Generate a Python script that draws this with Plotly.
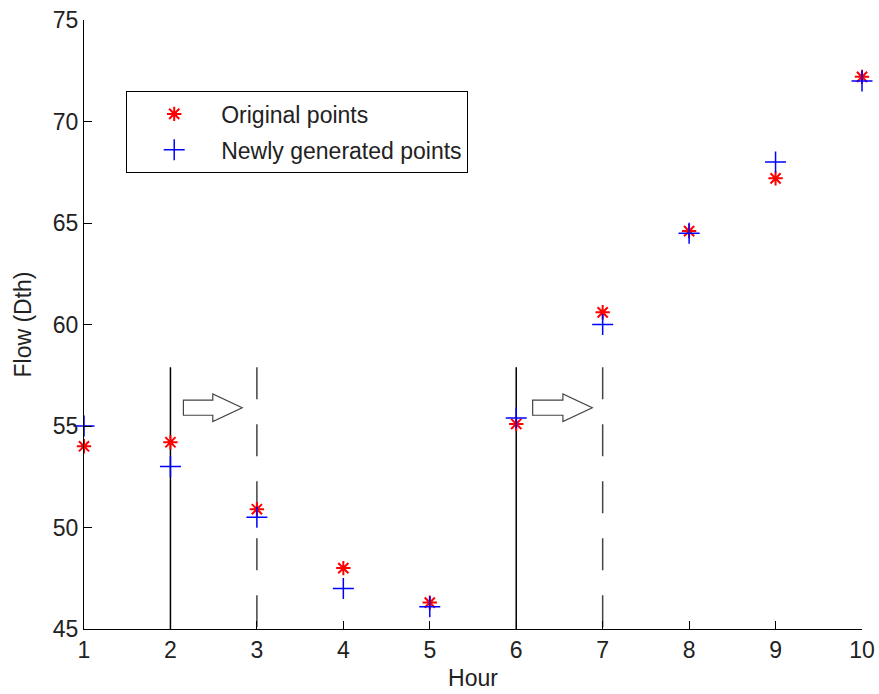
import plotly.graph_objects as go

hours = [1, 2, 3, 4, 5, 6, 7, 8, 9, 10]
original = [54.0, 54.2, 50.9, 48.0, 46.3, 55.1, 60.6, 64.6, 67.2, 72.2]
generated = [55.0, 53.0, 50.5, 47.0, 46.1, 55.4, 60.0, 64.5, 68.0, 72.0]

solid_hours = [2, 6]
dashed_hours = [3, 7]
marker_line_top = 57.9

# arrows: start x, head-start x, tip x, centre y
arrow_start = [2.15, 6.19]
arrow_head = [2.49, 6.54]
arrow_tip = [2.83, 6.88]
arrow_y = 55.9
arrow_body_half = 0.37
arrow_head_half = 0.68

x_ticks = list(range(1, 11))
y_ticks = [45, 50, 55, 60, 65, 70, 75]

FONT = "Liberation Sans, Arial, sans-serif"
FS = 23

fig = go.Figure()

for h in solid_hours:
    fig.add_trace(go.Scatter(x=[h, h], y=[marker_line_top, 45], mode="lines",
                             line=dict(color="black", width=1.5), showlegend=False, hoverinfo="skip"))
for h in dashed_hours:
    fig.add_trace(go.Scatter(x=[h, h], y=[marker_line_top, 45], mode="lines",
                             line=dict(color="#444444", width=1.5, dash="32px,25px"),
                             showlegend=False, hoverinfo="skip"))

fig.add_trace(go.Scatter(x=hours, y=original, mode="markers", name="Original points",
                         legendgroup="a", cliponaxis=False,
                         marker=dict(symbol="asterisk-open", size=12, color="red",
                                     line=dict(color="red", width=2))))
fig.add_trace(go.Scatter(x=hours, y=generated, mode="markers", name="Newly generated points",
                         legendgroup="b", cliponaxis=False,
                         marker=dict(symbol="cross-thin-open", size=15, color="blue",
                                     line=dict(color="blue", width=1.5))))

shapes = []
for xs, xh, xt in zip(arrow_start, arrow_head, arrow_tip):
    y0 = arrow_y
    b = arrow_body_half
    hh = arrow_head_half
    path = (f"M {xs},{y0 + b} L {xh},{y0 + b} L {xh},{y0 + hh} L {xt},{y0} "
            f"L {xh},{y0 - hh} L {xh},{y0 - b} L {xs},{y0 - b} Z")
    shapes.append(dict(type="path", path=path, xref="x", yref="y",
                       line=dict(color="#444444", width=1.2), fillcolor="white"))

fig.update_layout(
    width=879, height=694,
    margin=dict(l=84, r=17, t=20, b=65, autoexpand=False),
    paper_bgcolor="white", plot_bgcolor="white",
    font=dict(family=FONT, size=FS, color="#222222"),
    shapes=shapes,
    showlegend=True,
    legend=dict(x=0.054, y=0.883, xanchor="left", yanchor="top",
                bordercolor="black", borderwidth=1.2, bgcolor="white",
                font=dict(family=FONT, size=FS, color="#222222"),
                traceorder="grouped", tracegroupgap=3, itemwidth=84,
                entrywidth=352, entrywidthmode="pixels"),
    xaxis=dict(range=[1, 10], tickvals=x_ticks, ticks="inside", ticklen=8,
               tickcolor="black", showline=True, linecolor="black", linewidth=1.2,
               showgrid=False, zeroline=False, mirror=False, automargin=False,
               title=dict(text="Hour", font=dict(size=FS), standoff=8),
               tickfont=dict(size=FS)),
    yaxis=dict(range=[45, 75], tickvals=y_ticks, ticks="inside", ticklen=8,
               tickcolor="black", showline=True, linecolor="black", linewidth=1.2,
               showgrid=False, zeroline=False, mirror=False, automargin=False,
               title=dict(text="Flow (Dth)", font=dict(size=FS), standoff=14),
               tickfont=dict(size=FS)),
)

fig.write_html("out.html")
